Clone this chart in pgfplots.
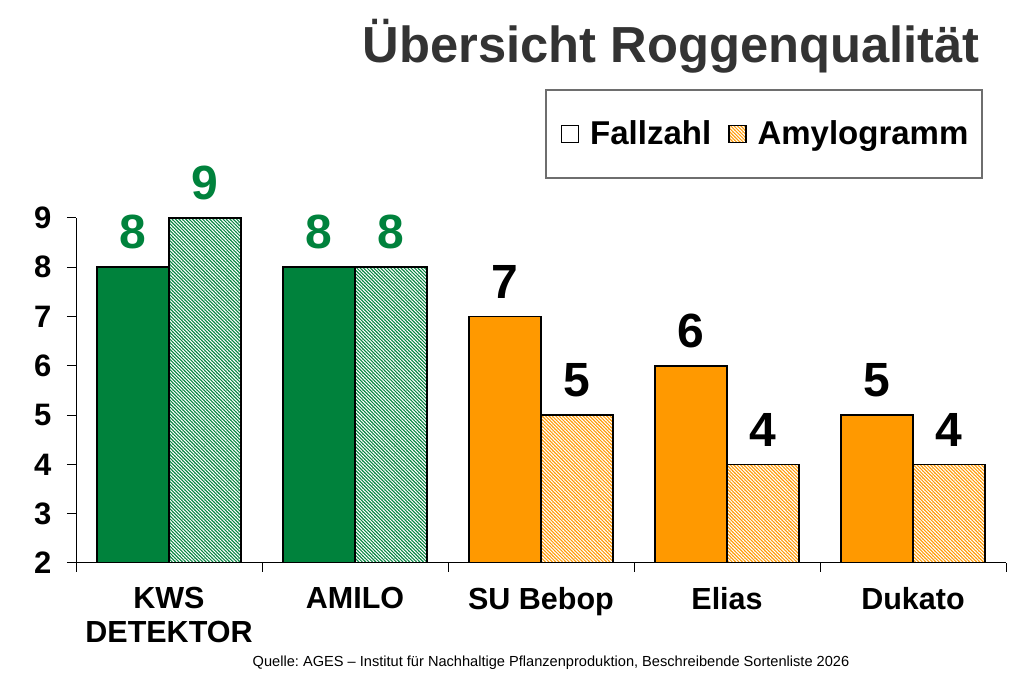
\documentclass[border=0pt]{standalone}
\usepackage{pgfplots}
\pgfplotsset{compat=1.18}
\usepackage{fontspec}
\setmainfont{Liberation Sans}
\usetikzlibrary{patterns,patterns.meta}
\definecolor{grn}{RGB}{0,130,60}
\definecolor{orn}{RGB}{255,153,0}
\definecolor{ttl}{RGB}{51,51,51}
\definecolor{frm}{RGB}{110,110,110}
\frenchspacing
\begin{document}
\begin{tikzpicture}[x=1bp,y=1bp]
\useasboundingbox (0,0) rectangle (1024,680);
\draw[frm, line width=1.3bp] (546,502) rectangle (982,590);
\begin{axis}[
  at={(76bp,117bp)}, anchor=south west,
  scale only axis, width=930bp, height=345bp,
  ybar, bar width=0.388,
  xmin=-0.5, xmax=4.5, ymin=2, ymax=9,
  axis lines*=left,
  axis line style={line width=1bp, black},
  xtick={0,1,2,3,4},
  xticklabels={{KWS\\DETEKTOR},AMILO,SU Bebop,Elias,Dukato},
  minor xtick={-0.5,0.5,1.5,2.5,3.5,4.5},
  ytick={2,3,4,5,6,7,8,9},
  tick align=outside,
  major tick length=9bp, minor tick length=9bp,
  major x tick style={draw=none},
  y tick style={line width=1bp, black},
  minor x tick style={line width=1bp, black},
  /pgf/number format/assume math mode=true,
  yticklabel style={font=\fontsize{31bp}{36bp}\selectfont\bfseries, xshift=-12bp},
  xticklabel style={font=\fontsize{30.5bp}{34bp}\selectfont\bfseries, align=center, yshift=-12bp},
  every node near coord/.append style={font=\fontsize{48bp}{56bp}\selectfont\bfseries, inner sep=0pt, yshift=17bp, anchor=south},
  legend columns=2,
  legend style={draw=none, fill=none, at={(0.5212,1.2446)}, anchor=west, inner sep=0pt,
    font=\fontsize{33bp}{40bp}\selectfont\bfseries,
    /tikz/every odd column/.append style={column sep=9bp},
    /tikz/every even column/.append style={column sep=15bp}},
  legend cell align=left,
]
\addplot[forget plot, bar shift=-0.194, fill=grn, draw=black, line width=1.7bp,
  nodes near coords, every node near coord/.append style={text=grn}]
  coordinates {(0,8) (1,8)};
\addplot[forget plot, bar shift=-0.194, fill=orn, draw=black, line width=1.7bp,
  nodes near coords, every node near coord/.append style={text=black}]
  coordinates {(2,7) (3,6) (4,5)};
\addplot[forget plot, bar shift=0.194, fill=grn, draw=black, line width=1.7bp,
  postaction={pattern={Lines[angle=-45,distance=2.4bp,line width=1.1bp]}, pattern color=white},
  nodes near coords, every node near coord/.append style={text=grn}]
  coordinates {(0,9) (1,8)};
\addplot[forget plot, bar shift=0.194, fill=orn, draw=black, line width=1.7bp,
  postaction={pattern={Lines[angle=-45,distance=2.4bp,line width=1.1bp]}, pattern color=white},
  nodes near coords, every node near coord/.append style={text=black}]
  coordinates {(2,5) (3,4) (4,4)};
\addlegendimage{legend image code/.code={\draw[fill=white, draw=black, line width=1.3bp] (0bp,-9bp) rectangle (17bp,8bp);}}
\addlegendentry{Fallzahl}
\addlegendimage{legend image code/.code={\draw[fill=orn, draw=black, line width=1.3bp, postaction={pattern={Lines[angle=-45,distance=2.4bp,line width=1.1bp]}, pattern color=white}] (0bp,-9bp) rectangle (17bp,8bp);}}
\addlegendentry{Amylogramm}
\end{axis}
\node[anchor=base east, inner sep=0pt, text=ttl, font=\fontsize{50.7bp}{60bp}\selectfont\bfseries] at (980,617) {Übersicht Roggenqualität};
\node[anchor=base, inner sep=0pt, font=\fontsize{14.6bp}{17bp}\selectfont] at (551,13) {Quelle: AGES – Institut für Nachhaltige Pflanzenproduktion, Beschreibende Sortenliste 2026};
\end{tikzpicture}
\end{document}
